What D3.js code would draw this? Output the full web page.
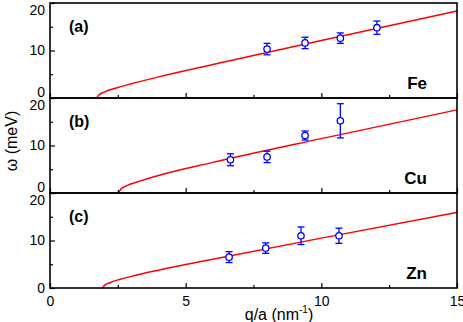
<!DOCTYPE html>
<html>
<head>
<meta charset="utf-8">
<script src="https://cdn.jsdelivr.net/npm/d3@7"></script>
<style>
  body { margin: 0; background: #fff; }
  text { font-family: "Liberation Sans", Arial, sans-serif; }
</style>
</head>
<body>
<div id="chart"></div>
<script>
// panel names
var panelTags = ["(a)", "(b)", "(c)"];
var elements = ["Fe", "Cu", "Zn"];

// measured points (q, omega, error)
var qFe = [8.0, 9.4, 10.7, 12.05];
var wFe = [10.3, 11.6, 12.6, 14.8];
var eFe = [1.2, 1.2, 1.1, 1.4];

var qCu = [6.65, 8.0, 9.4, 10.7];
var wCu = [7.0, 7.6, 12.1, 15.2];
var eCu = [1.25, 1.2, 0.95, 3.6];

var qZn = [6.6, 7.95, 9.25, 10.65];
var wZn = [6.5, 8.4, 11.0, 11.0];
var eZn = [1.15, 1.1, 1.85, 1.6];

// red curves
var cqFe = [1.72, 1.8, 2.0, 2.5, 3.0, 4.0, 6.0, 10.0, 15.0];
var cwFe = [0, 0.65, 1.25, 2.2, 3.0, 4.45, 7.05, 12.1, 18.3];

var cqCu = [2.52, 2.6, 2.8, 3.2, 4.0, 6.0, 10.0, 15.0];
var cwCu = [0, 0.75, 1.45, 2.3, 3.7, 6.45, 11.45, 17.5];

var cqZn = [1.94, 2.0, 2.2, 2.6, 3.0, 4.0, 6.0, 10.0, 15.0];
var cwZn = [0, 0.5, 1.1, 1.85, 2.45, 3.75, 6.05, 10.5, 15.9];

// ticks
var xTicks = [0, 5, 10, 15];
var xMinor = [2.5, 7.5, 12.5];
var yTicks = [0, 10, 20];
var yMinor = [5, 15];

var svgWidth = 463, svgHeight = 322;
var plotLeft = 50, plotRight = 457, plotTop = 3, panelH = 95;

var svg = d3.select("#chart").append("svg")
  .attr("width", svgWidth)
  .attr("height", svgHeight);

var x = d3.scaleLinear().domain([0, 15]).range([plotLeft, plotRight]);

var sets = [
  { q: qFe, w: wFe, e: eFe, cq: cqFe, cw: cwFe },
  { q: qCu, w: wCu, e: eCu, cq: cqCu, cw: cwCu },
  { q: qZn, w: wZn, e: eZn, cq: cqZn, cw: cwZn }
];

sets.forEach(function(s, i) {
  var y0 = plotTop + i * panelH;
  var y1 = y0 + panelH;
  var y = d3.scaleLinear().domain([0, 20]).range([y1, y0]);
  var g = svg.append("g");
  var last = i == sets.length - 1;

  // curve
  var pts = s.cq.map(function(q, k) { return { q: q, w: s.cw[k] }; });
  var line = d3.line()
    .x(function(d) { return x(d.q); })
    .y(function(d) { return y(d.w); })
    .curve(d3.curveMonotoneX);
  g.append("path")
    .datum(pts)
    .attr("fill", "none")
    .attr("stroke", "#ff0000")
    .attr("stroke-width", 1.5)
    .attr("d", line);

  // data with error bars
  var data = s.q.map(function(q, k) { return { q: q, w: s.w[k], e: s.e[k] }; });
  var pg = g.selectAll(".pt").data(data).enter().append("g")
    .attr("stroke", "#0000ff")
    .attr("stroke-width", 1.3)
    .attr("fill", "none");
  pg.append("line")
    .attr("x1", function(d) { return x(d.q); })
    .attr("x2", function(d) { return x(d.q); })
    .attr("y1", function(d) { return y(d.w + d.e); })
    .attr("y2", function(d) { return y(d.w - d.e); });
  [1, -1].forEach(function(sg) {
    pg.append("line")
      .attr("x1", function(d) { return x(d.q) - 3.5; })
      .attr("x2", function(d) { return x(d.q) + 3.5; })
      .attr("y1", function(d) { return y(d.w + sg * d.e); })
      .attr("y2", function(d) { return y(d.w + sg * d.e); });
  });
  pg.append("circle")
    .attr("cx", function(d) { return x(d.q); })
    .attr("cy", function(d) { return y(d.w); })
    .attr("r", 3.2)
    .attr("fill", "#fff");

  // axes
  var ya = g.append("g")
    .attr("transform", "translate(" + plotLeft + ",0)")
    .call(d3.axisLeft(y).tickValues(yTicks).tickSize(-5).tickPadding(5));
  ya.selectAll("text")
    .attr("font-size", 14)
    .attr("font-family", "Liberation Sans, Arial, sans-serif")
    .attr("fill", "#000")
    .attr("dy", function(d) {
      if (d == 20) return "0.85em";
      if (d == 0 && !last) return "-0.1em";
      return "0.32em";
    });
  g.append("g")
    .attr("transform", "translate(" + plotLeft + ",0)")
    .call(d3.axisLeft(y).tickValues(yMinor).tickSize(-3).tickFormat(""));

  var xa = g.append("g")
    .attr("transform", "translate(0," + y1 + ")")
    .call(d3.axisBottom(x).tickValues(xTicks).tickSize(-5).tickPadding(8)
      .tickFormat(last ? d3.format("d") : ""));
  xa.selectAll("text")
    .attr("font-size", 14)
    .attr("font-family", "Liberation Sans, Arial, sans-serif")
    .attr("fill", "#000");
  g.append("g")
    .attr("transform", "translate(0," + y1 + ")")
    .call(d3.axisBottom(x).tickValues(xMinor).tickSize(-3).tickFormat(""));

  g.selectAll(".domain").remove();
  g.selectAll(".tick line").attr("stroke", "#000").attr("stroke-width", 1.2);

  g.append("rect")
    .attr("x", plotLeft)
    .attr("y", y0)
    .attr("width", plotRight - plotLeft)
    .attr("height", panelH)
    .attr("fill", "none")
    .attr("stroke", "#000")
    .attr("stroke-width", 1.6);

  g.append("text")
    .attr("x", plotLeft + 19)
    .attr("y", y0 + 29)
    .attr("font-size", 16)
    .attr("font-weight", "bold")
    .text(panelTags[i]);

  g.append("text")
    .attr("x", plotRight - 30)
    .attr("y", y1 - 9)
    .attr("text-anchor", "end")
    .attr("font-size", 17)
    .attr("font-weight", "bold")
    .text(elements[i]);
});

// axis titles
var xt = svg.append("text")
  .attr("x", 279)
  .attr("y", 320)
  .attr("text-anchor", "middle")
  .attr("font-size", 16);
xt.append("tspan").text("q/a (nm");
xt.append("tspan").attr("font-size", 10).attr("dy", -7).text("-1");
xt.append("tspan").attr("dy", 7).text(")");

svg.append("text")
  .attr("transform", "translate(17," + 141 + ") rotate(-90)")
  .attr("text-anchor", "middle")
  .attr("font-size", 16)
  .text("ω (meV)");
</script>
</body>
</html>
